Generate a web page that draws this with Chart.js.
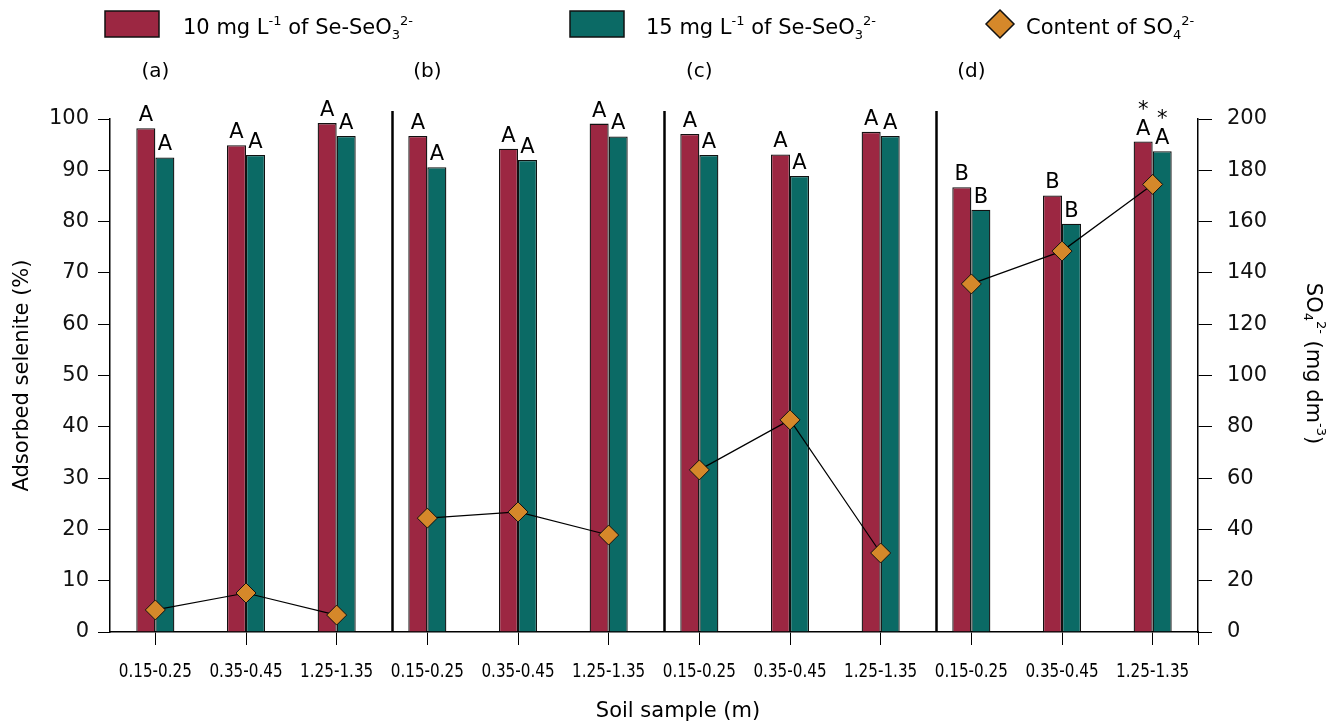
<!DOCTYPE html>
<html>
<head>
<meta charset="utf-8">
<script src="https://cdn.jsdelivr.net/npm/chart.js@4.4.1/dist/chart.umd.min.js"></script>
<style>
    html, body { margin: 0; padding: 0; background: #fff; }
    #wrap { width: 1341px; height: 726px; }
</style>
</head>
<body>
<div id="wrap"><canvas id="seChart"></canvas></div>
<script>
const samples = [
    '0.15-0.25', '0.35-0.45', '1.25-1.35',
    '0.15-0.25', '0.35-0.45', '1.25-1.35',
    '0.15-0.25', '0.35-0.45', '1.25-1.35',
    '0.15-0.25', '0.35-0.45', '1.25-1.35',
];
const se10 = [98.2, 94.9, 99.2, 96.7, 94.2, 99.1, 97.1, 93.1, 97.5, 86.7, 85.1, 95.6];
const se15 = [92.5, 93.0, 96.7, 90.6, 92.0, 96.6, 93.0, 88.9, 96.7, 82.3, 79.6, 93.7];
const so4 = [8.6, 15.2, 6.6, 44.4, 46.8, 37.8, 63.2, 82.7, 30.8, 135.7, 148.5, 174.5];
const letters10 = ['A', 'A', 'A', 'A', 'A', 'A', 'A', 'A', 'A', 'B', 'B', 'A'];
const letters15 = ['A', 'A', 'A', 'A', 'A', 'A', 'A', 'A', 'A', 'B', 'B', 'A'];
const stars10 = ['', '', '', '', '', '', '', '', '', '', '', '*'];
const stars15 = ['', '', '', '', '', '', '', '', '', '', '', '*'];
const panels = ['(a)', '(b)', '(c)', '(d)'];
const panelStart = [0, 3, 6, 9];
const separatorsAfter = [2, 5, 8];

const legend10 = [['10 mg L', ''], ['-1', 'sup'], [' of Se-SeO', ''], ['3', 'sub'], ['2-', 'sup']];
const legend15 = [['15 mg L', ''], ['-1', 'sup'], [' of Se-SeO', ''], ['3', 'sub'], ['2-', 'sup']];
const legendSo4 = [['Content of SO', ''], ['4', 'sub'], ['2-', 'sup']];
const titleLeft = [['Adsorbed selenite (%)', '']];
const titleRight = [['SO', ''], ['4', 'sub'], ['2-', 'sup'], [' (mg dm', ''], ['-3', 'sup'], [')', '']];
const titleX = [['Soil sample (m)', '']];

const RED = '#9c2742';
const TEAL = '#0b6a65';
const ORANGE = '#d5882a';
const FONT = '"DejaVu Sans"';

function richWidth(ctx, parts, size) {
    let w = 0;
    for (const [t, k] of parts) {
        ctx.font = `${k ? size * 0.62 : size}px ${FONT}`;
        w += ctx.measureText(t).width;
    }
    return w;
}

function drawRich(ctx, parts, x, y, size) {
    let cx = x;
    for (const [t, k] of parts) {
        ctx.font = `${k ? size * 0.62 : size}px ${FONT}`;
        const dy = k === 'sup' ? -size * 0.42 : k === 'sub' ? size * 0.22 : 0;
        ctx.fillText(t, cx, y + dy);
        cx += ctx.measureText(t).width;
    }
}

const overlay = {
    id: 'overlay',
    afterDraw(chart) {
        const { ctx, chartArea, scales } = chart;
        const x = scales.x;
        const step = x.getPixelForValue(1) - x.getPixelForValue(0);
        ctx.save();
        ctx.fillStyle = '#000';
        ctx.textBaseline = 'alphabetic';

        // group separators
        ctx.strokeStyle = '#000';
        ctx.lineWidth = 2.5;
        separatorsAfter.forEach((i) => {
            const px = Math.round(x.getPixelForValue(i) + step * 0.61) + 0.5;
            ctx.beginPath();
            ctx.moveTo(px, chartArea.top - 8);
            ctx.lineTo(px, chartArea.bottom);
            ctx.stroke();
        });

        // right end tick of the x axis
        ctx.lineWidth = 1;
        ctx.beginPath();
        ctx.moveTo(chartArea.right + 0.5, chartArea.bottom);
        ctx.lineTo(chartArea.right + 0.5, chartArea.bottom + 13);
        ctx.stroke();

        // letters above bars
        ctx.textAlign = 'center';
        ctx.font = `21px ${FONT}`;
        const m10 = chart.getDatasetMeta(1).data;
        const m15 = chart.getDatasetMeta(2).data;
        m10.forEach((bar, i) => {
            ctx.fillText(letters10[i], bar.x, bar.y - 7);
            if (stars10[i]) ctx.fillText(stars10[i], bar.x, bar.y - 26);
        });
        m15.forEach((bar, i) => {
            ctx.fillText(letters15[i], bar.x, bar.y - 7);
            if (stars15[i]) ctx.fillText(stars15[i], bar.x, bar.y - 26);
        });

        // panel labels
        ctx.font = `20px ${FONT}`;
        ctx.textBaseline = 'middle';
        panels.forEach((p, k) => {
            ctx.fillText(p, x.getPixelForValue(panelStart[k]), 72);
        });

        // category labels (narrow type as in the original)
        ctx.font = `19px ${FONT}`;
        samples.forEach((s, i) => {
            ctx.save();
            ctx.translate(x.getPixelForValue(i), 672);
            ctx.scale(0.8, 1);
            ctx.fillText(s, 0, 0);
            ctx.restore();
        });

        // axis titles
        ctx.textAlign = 'left';
        ctx.textBaseline = 'middle';
        const midY = (chartArea.top + chartArea.bottom) / 2;
        let w = richWidth(ctx, titleX, 21);
        drawRich(ctx, titleX, 678 - w / 2, 712, 21);

        ctx.save();
        ctx.translate(23, midY);
        ctx.rotate(-Math.PI / 2);
        w = richWidth(ctx, titleLeft, 21);
        drawRich(ctx, titleLeft, -w / 2, 0, 21);
        ctx.restore();

        ctx.save();
        ctx.translate(1312, midY - 12);
        ctx.rotate(Math.PI / 2);
        w = richWidth(ctx, titleRight, 21);
        drawRich(ctx, titleRight, -w / 2, 0, 21);
        ctx.restore();

        // legend
        ctx.lineWidth = 1.5;
        ctx.strokeStyle = '#111';
        ctx.fillStyle = RED;
        ctx.fillRect(105, 11, 54, 26);
        ctx.strokeRect(105, 11, 54, 26);
        ctx.fillStyle = TEAL;
        ctx.fillRect(570, 11, 54, 26);
        ctx.strokeRect(570, 11, 54, 26);
        ctx.fillStyle = ORANGE;
        ctx.beginPath();
        ctx.moveTo(1000, 10);
        ctx.lineTo(1014, 24);
        ctx.lineTo(1000, 38);
        ctx.lineTo(986, 24);
        ctx.closePath();
        ctx.fill();
        ctx.stroke();
        ctx.fillStyle = '#000';
        ctx.textBaseline = 'alphabetic';
        drawRich(ctx, legend10, 183, 34, 21);
        drawRich(ctx, legend15, 646, 34, 21);
        drawRich(ctx, legendSo4, 1026, 34, 21);
        ctx.restore();
    },
};

new Chart(document.getElementById('seChart'), {
    type: 'bar',
    data: {
        labels: samples,
        datasets: [
            {
                type: 'line',
                label: 'Content of SO4',
                data: so4,
                yAxisID: 'y2',
                order: 0,
                borderColor: '#000',
                borderWidth: 1.2,
                tension: 0,
                pointStyle: 'rectRot',
                pointRadius: 10,
                pointBackgroundColor: ORANGE,
                pointBorderColor: '#111',
                pointBorderWidth: 1,
                segment: {
                    borderColor: (c) => (Math.floor(c.p0DataIndex / 3) === Math.floor(c.p1DataIndex / 3) ? '#000' : 'rgba(0,0,0,0)'),
                },
            },
            {
                label: '10 mg L-1',
                data: se10,
                yAxisID: 'y',
                order: 1,
                backgroundColor: RED,
                borderColor: '#111',
                borderWidth: 1.3,
                categoryPercentage: 0.42,
                barPercentage: 1,
            },
            {
                label: '15 mg L-1',
                data: se15,
                yAxisID: 'y',
                order: 1,
                backgroundColor: TEAL,
                borderColor: '#111',
                borderWidth: 1.3,
                categoryPercentage: 0.42,
                barPercentage: 1,
            },
        ],
    },
    options: {
        responsive: true,
        maintainAspectRatio: false,
        animation: false,
        layout: {
            padding: { top: 119, left: 0, right: 0, bottom: 0 },
        },
        plugins: {
            legend: { display: false },
            tooltip: { enabled: false },
        },
        scales: {
            x: {
                offset: true,
                grid: {
                    drawOnChartArea: false,
                    offset: false,
                    color: '#000',
                    tickLength: 13,
                },
                border: { color: '#000', width: 1.5 },
                ticks: { color: 'rgba(0,0,0,0)', font: { size: 14, family: FONT } },
                afterFit: (s) => { s.height = 94; },
            },
            y: {
                position: 'left',
                min: 0,
                max: 100,
                ticks: {
                    stepSize: 10,
                    color: '#111',
                    padding: 9,
                    font: { size: 21, family: FONT },
                },
                grid: {
                    drawOnChartArea: false,
                    color: '#000',
                    tickLength: 12,
                },
                border: { color: '#000', width: 1.5 },
                afterFit: (s) => { s.width = 110; },
            },
            y2: {
                position: 'right',
                min: 0,
                max: 200,
                ticks: {
                    stepSize: 20,
                    color: '#111',
                    padding: 15,
                    font: { size: 21, family: FONT },
                },
                grid: {
                    drawOnChartArea: false,
                    color: '#000',
                    tickLength: 14,
                },
                border: { color: '#000', width: 1.5 },
                afterFit: (s) => { s.width = 143; },
            },
        },
    },
    plugins: [overlay],
});
</script>
</body>
</html>
